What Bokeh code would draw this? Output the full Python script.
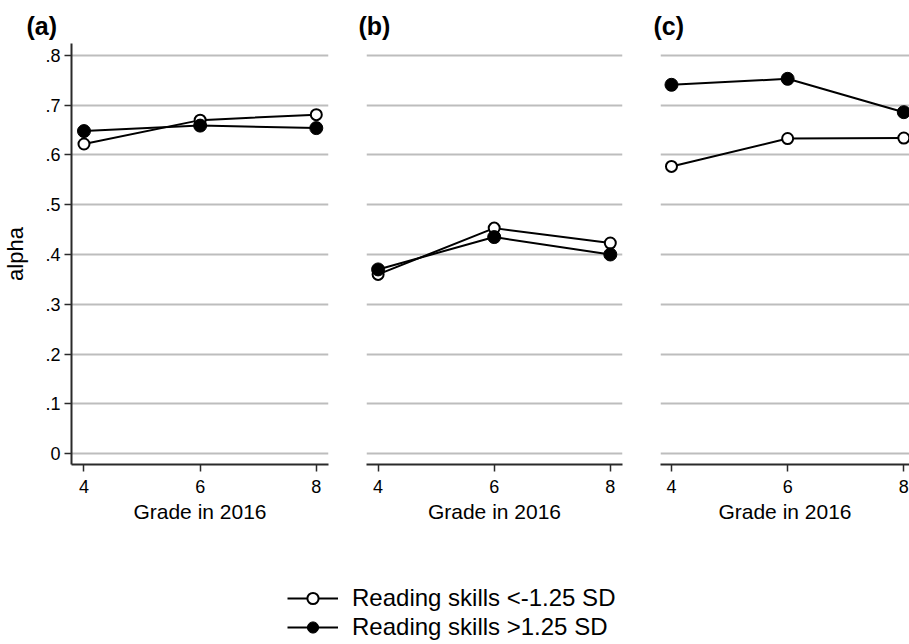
from bokeh.plotting import figure
from bokeh.layouts import column, row
from bokeh.models import FixedTicker, Title, Legend, LegendItem, Range1d
from bokeh.embed import file_html
from bokeh.resources import INLINE

# ---- data ----
grades = [4, 6, 8]
panel_labels = ["(a)", "(b)", "(c)"]
low_a = [0.622, 0.670, 0.681]
high_a = [0.648, 0.659, 0.654]
low_b = [0.360, 0.453, 0.423]
high_b = [0.370, 0.435, 0.400]
low_c = [0.577, 0.633, 0.634]
high_c = [0.741, 0.753, 0.686]
series_names = ["Reading skills <-1.25 SD", "Reading skills >1.25 SD"]
y_ticks = [0, 0.1, 0.2, 0.3, 0.4, 0.5, 0.6, 0.7, 0.8]
y_tick_labels = ["0", ".1", ".2", ".3", ".4", ".5", ".6", ".7", ".8"]
x_ticks = [4, 6, 8]
x_title = "Grade in 2016"
y_title = "alpha"

FONT = "Liberation Sans"
GRID = "#bdbdbd"
AX = "#2a2a2a"

def make_panel(label, low, high, width, bl, br, xr, show_y, title_offset):
    p = figure(width=width, height=533, output_backend="svg", toolbar_location=None,
               x_range=Range1d(*xr), y_range=Range1d(-0.022, 0.824),
               min_border_left=bl, min_border_right=br, min_border_top=43, min_border_bottom=69)
    p.outline_line_color = None
    p.background_fill_color = "white"
    p.border_fill_color = "white"
    p.title = Title(text=label, align="left", offset=title_offset, text_font=FONT,
                    text_font_size="25px", text_font_style="bold", text_color="black", standoff=7)
    p.xgrid.visible = False
    p.ygrid.ticker = FixedTicker(ticks=y_ticks)
    p.ygrid.grid_line_color = GRID
    p.ygrid.grid_line_width = 2
    # x axis
    xa = p.xaxis[0]
    xa.ticker = FixedTicker(ticks=x_ticks)
    xa.axis_label = x_title
    xa.axis_label_text_font = FONT
    xa.axis_label_text_font_size = "21px"
    xa.axis_label_text_font_style = "normal"
    xa.axis_label_text_color = "black"
    xa.axis_label_standoff = 4
    xa.major_label_text_font = FONT
    xa.major_label_text_font_size = "18px"
    xa.major_label_text_color = "black"
    xa.major_label_standoff = 8
    xa.major_tick_out = 7
    xa.major_tick_in = 0
    xa.minor_tick_out = 0
    xa.minor_tick_in = 0
    xa.axis_line_color = AX
    xa.axis_line_width = 2
    xa.major_tick_line_color = AX
    xa.major_tick_line_width = 1.5
    ya = p.yaxis[0]
    ya.ticker = FixedTicker(ticks=y_ticks)
    if show_y:
        ya.major_label_overrides = {t: s for t, s in zip(y_ticks, y_tick_labels)}
        ya.axis_label = y_title
        ya.axis_label_text_font = FONT
        ya.axis_label_text_font_size = "22px"
        ya.axis_label_text_font_style = "normal"
        ya.axis_label_text_color = "black"
        ya.axis_label_standoff = 14
        ya.major_label_text_font = FONT
        ya.major_label_text_font_size = "18px"
        ya.major_label_text_color = "black"
        ya.major_label_standoff = 4
        ya.major_tick_out = 7
        ya.major_tick_in = 0
        ya.minor_tick_out = 0
        ya.minor_tick_in = 0
        ya.axis_line_color = AX
        ya.axis_line_width = 2
        ya.major_tick_line_color = AX
        ya.major_tick_line_width = 1.5
    else:
        ya.visible = False
    p.line(grades, low, line_color="black", line_width=2)
    p.line(grades, high, line_color="black", line_width=2)
    p.scatter(grades, low, marker="circle", size=11, fill_color="white",
              line_color="black", line_width=2)
    p.scatter(grades, high, marker="circle", size=13, fill_color="black",
              line_color="black", line_width=1)
    return p

pa = make_panel(panel_labels[0], low_a, high_a, 347, 70, 19, (3.785, 8.21), True, -45)
pb = make_panel(panel_labels[1], low_b, high_b, 294, 19, 19, (3.80, 8.21), False, -8)
pc = make_panel(panel_labels[2], low_c, high_c, 268, 19, 0, (3.811, 8.098), False, -7)

# ---- legend panel ----
lg = figure(width=909, height=111, output_backend="svg", toolbar_location=None,
            x_range=Range1d(0, 1), y_range=Range1d(0, 1),
            min_border_left=287, min_border_top=51, min_border_bottom=0, min_border_right=0)
lg.outline_line_color = None
lg.axis.visible = False
lg.grid.visible = False
r1l = lg.line(grades, low_a, line_color="black", line_width=2)
r1s = lg.scatter(grades, low_a, marker="circle", size=9, fill_color="white",
                 line_color="black", line_width=2)
r2l = lg.line(grades, high_a, line_color="black", line_width=2)
r2s = lg.scatter(grades, high_a, marker="circle", size=12, fill_color="black",
                 line_color="black", line_width=1)
legend = Legend(items=[LegendItem(label=series_names[0], renderers=[r1l, r1s]),
                       LegendItem(label=series_names[1], renderers=[r2l, r2s])],
                location="top_left", orientation="vertical",
                glyph_width=51, glyph_height=28, label_standoff=14, spacing=1,
                padding=0, margin=0, border_line_color=None, background_fill_alpha=0,
                label_text_font=FONT, label_text_font_size="24px", label_text_color="black")
lg.add_layout(legend)

layout = column(row(pa, pb, pc), lg)
open("out.html", "w").write(file_html(layout, INLINE))
